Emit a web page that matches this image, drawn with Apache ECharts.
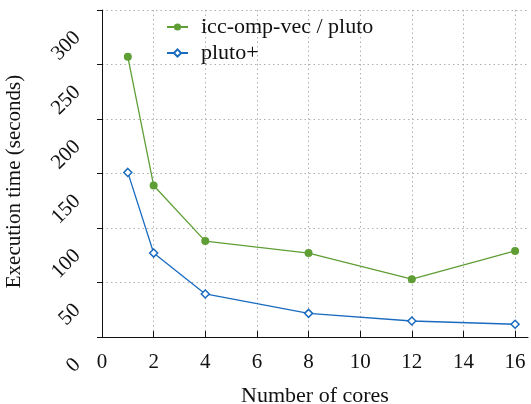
<!DOCTYPE html>
<html><head><meta charset="utf-8">
<script src="https://cdn.jsdelivr.net/npm/echarts@6/dist/echarts.min.js"></script>
<style>html,body{margin:0;padding:0;background:#fff}#c{width:531px;height:404px}</style>
</head><body><div id="c"></div>
<script>
const cores = [1, 2, 4, 8, 12, 16];
const iccOmpVec = [257, 139, 88, 77, 53, 79];
const plutoPlus = [151, 77, 39.5, 21.7, 14.7, 11.7];
const xTicks = [0, 2, 4, 6, 8, 10, 12, 14, 16];
const yTicks = [0, 50, 100, 150, 200, 250, 300];
const seriesNames = ['icc-omp-vec / pluto', 'pluto+'];

const FONT = 'Liberation Serif';
const green = '#5f9e35', blue = '#1a6bbf';
const chart = echarts.init(document.getElementById('c'), null, {renderer: 'canvas'});
chart.setOption({
  animation: false,
  backgroundColor: '#fff',
  grid: {left: 102, right: 3, top: 10, bottom: 67, containLabel: false, outerBoundsMode: 'none'},
  legend: {
    orient: 'vertical', left: 161, top: 11,
    itemWidth: 21, itemHeight: 9, itemGap: 4,
    textStyle: {fontFamily: FONT, fontSize: 22, color: '#111', padding: [0,0,0,8]},
    data: seriesNames
  },
  xAxis: {
    type: 'value', min: 0, max: 16.5,
    name: 'Number of cores', nameLocation: 'middle', nameGap: 48,
    nameTextStyle: {fontFamily: FONT, fontSize: 22, color: '#111'},
    axisLine: {show: true, onZero: false, lineStyle: {color: '#111', width: 1}},
    axisTick: {show: true, inside: true, length: 6, customValues: xTicks, lineStyle: {color: '#111'}},
    axisLabel: {customValues: xTicks, fontFamily: FONT, fontSize: 21, color: '#111', margin: 15},
    splitLine: {show: true, lineStyle: {color: '#b0b0b0', type: [1.5, 3], width: 1}}
  },
  yAxis: {
    type: 'value', min: 0, max: 300, interval: 50,
    name: 'Execution time (seconds)', nameLocation: 'middle', nameGap: 77,
    nameTextStyle: {fontFamily: FONT, fontSize: 21, color: '#111', padding: [0, 16, 0, 0]},
    axisLine: {show: true, lineStyle: {color: '#111', width: 1}},
    axisTick: {show: true, inside: false, length: 5, lineStyle: {color: '#111'}},
    axisLabel: {fontFamily: FONT, fontSize: 21, color: '#111', rotate: 45, margin: 0, align: 'right', padding: [0, 35, 0, 0],
      formatter: v => String(v)},
    splitLine: {show: true, lineStyle: {color: '#b0b0b0', type: [1.5, 3], width: 1}}
  },
  series: [
    {
      name: seriesNames[0], type: 'line',
      data: cores.map((c, i) => [c, iccOmpVec[i]]),
      symbol: 'circle', symbolSize: 8,
      lineStyle: {color: green, width: 1.3},
      itemStyle: {color: green}
    },
    {
      name: seriesNames[1], type: 'line',
      data: cores.map((c, i) => [c, plutoPlus[i]]),
      symbol: 'diamond', symbolSize: 8,
      lineStyle: {color: blue, width: 1.3},
      itemStyle: {color: '#fff', borderColor: blue, borderWidth: 1.5}
    }
  ]
});
</script></body></html>
